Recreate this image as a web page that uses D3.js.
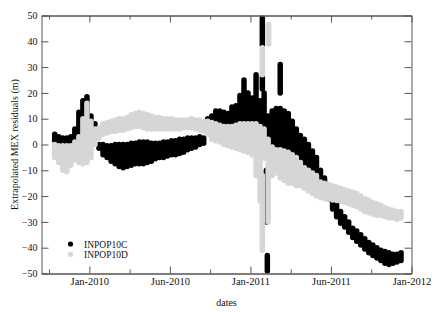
<!DOCTYPE html>
<html>
<head>
<meta charset="utf-8">
<script src="https://cdn.jsdelivr.net/npm/d3@7"></script>
<style>
  body { margin: 0; background: #fff; }
  text { font-family: "Liberation Serif", "DejaVu Serif", serif; fill: #111; }
</style>
</head>
<body>
<script>
// residual bands: each entry is one column of dots (date in decimal years, lowest / highest value in m)
const cYear = [2009.785,2009.810,2009.835,2009.860,2009.885,2009.910,2009.935,2009.960,2009.985,2010.010,
  2010.035,2010.060,2010.085,2010.110,2010.135,2010.160,2010.185,2010.210,2010.235,2010.260,
  2010.285,2010.310,2010.335,2010.360,2010.385,2010.410,2010.435,2010.460,2010.485,2010.510,
  2010.535,2010.560,2010.585,2010.610,2010.635,2010.660,2010.685,2010.710,2010.735,2010.760,
  2010.785,2010.810,2010.835,2010.860,2010.885,2010.910,2010.935,2010.960,2010.985,2011.010,
  2011.035,2011.060,2011.074,2011.074,2011.085,2011.099,2011.105,2011.110,2011.135,2011.160,
  2011.185,2011.185,2011.210,2011.235,2011.260,2011.285,2011.310,2011.335,2011.360,2011.385,
  2011.410,2011.435,2011.460,2011.485,2011.510,2011.535,2011.560,2011.585,2011.610,2011.635,
  2011.660,2011.685,2011.710,2011.735,2011.760,2011.785,2011.810,2011.835,2011.860,2011.885,
  2011.910,2011.935];
const cLow = [1.5,1,0.5,0.5,0.5,1,2,1,8,7,
  5,-1.5,-4,-5,-6.5,-7.5,-8.5,-9,-8.5,-8,
  -7.5,-7.5,-7.5,-7,-6.5,-5.5,-5,-5,-4.5,-4,
  -4,-3.5,-3,-2,-1.5,-1,0,0.5,8,8,
  8,7.5,7.5,7.5,7.5,8,8,7,6,6,
  6,5,38.5,21.5,-5,-30,-49,-3,-2,-1,
  -1,20,-2,-3,-6,-7,-8,-10,-11,-12,
  -13,-14,-17,-21,-25,-28,-30.5,-32,-34,-36,
  -37.5,-39,-40.5,-42,-43,-44,-45,-46,-46.5,-46,
  -45.5,-45];
const cHigh = [4,3,2.5,2.5,3,6,12.5,17,18.5,11,
  8,0,0,-0.5,-0.5,0,0,0,0,0.5,
  0.5,1,1,1,0.5,0.5,0.5,1,1,1.5,
  1.5,2,2,2.5,2.5,2.5,3,2.5,10,11,
  13,13,12.5,12,14.5,15,19,25,20,18,
  27,17,49,26,20,-10,-43,11,13,14,
  14,31,13,12,9,6,3.5,2,0,-2.5,
  -5,-10,-13,-16,-19,-22,-26,-28,-30,-32.5,
  -33.5,-35,-36.5,-38,-39,-40,-41,-41.5,-42,-42.5,
  -42.5,-42];

const dYear = [2009.785,2009.810,2009.835,2009.860,2009.885,2009.910,2009.935,2009.960,2009.985,2010.010,
  2010.035,2010.060,2010.085,2010.110,2010.135,2010.160,2010.185,2010.210,2010.235,2010.260,
  2010.285,2010.310,2010.335,2010.360,2010.385,2010.410,2010.435,2010.460,2010.485,2010.510,
  2010.535,2010.560,2010.585,2010.610,2010.635,2010.660,2010.685,2010.710,2010.735,2010.760,
  2010.785,2010.810,2010.835,2010.860,2010.885,2010.910,2010.935,2010.960,2010.985,2011.010,
  2011.035,2011.060,2011.074,2011.074,2011.085,2011.110,2011.113,2011.135,2011.160,2011.185,
  2011.210,2011.235,2011.260,2011.285,2011.310,2011.335,2011.360,2011.385,2011.410,2011.435,
  2011.460,2011.485,2011.510,2011.535,2011.560,2011.585,2011.610,2011.635,2011.660,2011.685,
  2011.710,2011.735,2011.760,2011.785,2011.810,2011.835,2011.860,2011.885,2011.910,2011.935];
const dLow = [-5,-7,-10,-10.5,-8,-6,-7,-7.5,-7,-5,
  0,2.5,4,4.5,5,5,5.5,5.5,6,6.5,
  7,7,6.5,6,6,6,6,6,6,6,
  6,6,6.5,6.5,6.5,6,5.5,5,4,2,
  1.5,1,0,-0.5,-1,-1.5,-2,-2.5,-3,-4,
  -12,-22,27,-41,-5,-30,39,-12,-11,-13,
  -14,-15,-15,-16,-16,-17,-18,-19,-20,-20.5,
  -21,-21,-21.5,-21.7,-22,-22.5,-23,-23.5,-24,-25,
  -26,-26.5,-27,-27.5,-27.5,-28,-28.5,-28.5,-29,-28.5];
const dHigh = [0,-0.5,-0.5,-0.5,-0.5,1,3,10,16,9,
  6,6.5,8,8.5,9,9.5,10,10,10.5,11.5,
  12,12.5,12,11.5,11,10.5,10.5,10,10,10,
  9.5,9.5,9.5,9.5,10,9.5,9.5,9,9,8.5,
  8,7.5,7,7,7,7.5,8,8,8,8,
  8,7,37.5,-12,6,2,46.5,-1,-2,-2,
  -2.5,-3,-4,-5,-7,-9,-10,-11,-12,-14.5,
  -15,-15.5,-16,-16.5,-17,-17.5,-18,-18.5,-19,-20,
  -21,-21.5,-22.5,-23,-23.5,-24.5,-25,-25.5,-26,-26];

const yTicks = [-50,-40,-30,-20,-10,0,10,20,30,40,50];
const xTicks = [2010, 2010.5, 2011, 2011.5, 2012];
const xTickLabels = ["Jan-2010","Jun-2010","Jan-2011","Jun-2011","Jan-2012"];
const xMinorTicks = [2009.75, 2010.25, 2010.75, 2011.25, 2011.75];
const seriesNames = ["INPOP10C","INPOP10D"];
const seriesColors = ["#000000","#d6d6d6"];

const w = 436;
const h = 312;
const mLeft = 41.5, mRight = 411.5, mTop = 15.5, mBottom = 273.5;

const x = d3.scaleLinear().domain([2009.703, 2012]).range([mLeft, mRight]);
const y = d3.scaleLinear().domain([-50, 50]).range([mBottom, mTop]);

const svg = d3.select("body")
  .append("svg")
  .attr("width", w)
  .attr("height", h);

svg.append("clipPath")
  .attr("id", "plot")
  .append("rect")
  .attr("x", mLeft)
  .attr("y", mTop)
  .attr("width", mRight - mLeft)
  .attr("height", mBottom - mTop);

const cSegs = cYear.map((d, i) => ({ t: d, lo: cLow[i], hi: cHigh[i] }));
const dSegs = dYear.map((d, i) => ({ t: d, lo: dLow[i], hi: dHigh[i] }));

// INPOP10C first, INPOP10D drawn over it
[cSegs, dSegs].forEach((segs, s) => {
  svg.append("g")
    .attr("clip-path", "url(#plot)")
    .selectAll("line")
    .data(segs)
    .enter()
    .append("line")
    .attr("x1", (d) => x(d.t))
    .attr("x2", (d) => x(d.t))
    .attr("y1", (d) => y(d.lo))
    .attr("y2", (d) => y(d.hi))
    .attr("stroke", seriesColors[s])
    .attr("stroke-width", 5.5)
    .attr("stroke-linecap", "round");
});

// axes, ticks pointing into the frame
function styleAxis(g) {
  g.selectAll(".domain").attr("stroke", "#555");
  g.selectAll(".tick line").attr("stroke", "#555");
  g.selectAll("text")
    .attr("font-family", "Liberation Serif, DejaVu Serif, serif")
    .attr("fill", "#111");
}

svg.append("g")
  .attr("transform", `translate(${mLeft},0)`)
  .call(d3.axisLeft(y).tickValues(yTicks).tickSize(-7).tickSizeOuter(0).tickPadding(4))
  .call(styleAxis)
  .selectAll("text").attr("font-size", "10px");

svg.append("g")
  .attr("transform", `translate(${mRight},0)`)
  .call(d3.axisRight(y).tickValues(yTicks).tickSize(-7).tickSizeOuter(0).tickFormat(""))
  .call(styleAxis);

svg.append("g")
  .attr("transform", `translate(0,${mBottom})`)
  .call(d3.axisBottom(x).tickValues(xTicks).tickSize(-7).tickSizeOuter(0).tickPadding(4)
    .tickFormat((d, i) => xTickLabels[i]))
  .call(styleAxis)
  .selectAll("text").attr("font-size", "10.5px");

svg.append("g")
  .attr("transform", `translate(0,${mBottom})`)
  .call(d3.axisBottom(x).tickValues(xMinorTicks).tickSize(-4).tickSizeOuter(0).tickFormat(""))
  .call(styleAxis);

svg.append("g")
  .attr("transform", `translate(0,${mTop})`)
  .call(d3.axisTop(x).tickValues(xTicks).tickSize(-7).tickSizeOuter(0).tickFormat(""))
  .call(styleAxis);

svg.append("g")
  .attr("transform", `translate(0,${mTop})`)
  .call(d3.axisTop(x).tickValues(xMinorTicks).tickSize(-4).tickSizeOuter(0).tickFormat(""))
  .call(styleAxis);

svg.append("text")
  .text("dates")
  .attr("x", (mLeft + mRight) / 2)
  .attr("y", 306)
  .attr("font-size", "10px")
  .attr("text-anchor", "middle");

svg.append("text")
  .text("Extrapolated MEX residuals (m)")
  .attr("transform", `translate(18,${(mTop + mBottom) / 2}) rotate(-90)`)
  .attr("font-size", "10px")
  .attr("text-anchor", "middle");

// legend
const legend = svg.append("g");
seriesNames.forEach((name, i) => {
  legend.append("circle")
    .attr("cx", 70.5)
    .attr("cy", 244 + i * 10.3)
    .attr("r", 2.6)
    .attr("fill", seriesColors[i]);
  legend.append("text")
    .text(name)
    .attr("x", 84)
    .attr("y", 247.5 + i * 10.3)
    .attr("font-size", "9.5px");
});
</script>
</body>
</html>
